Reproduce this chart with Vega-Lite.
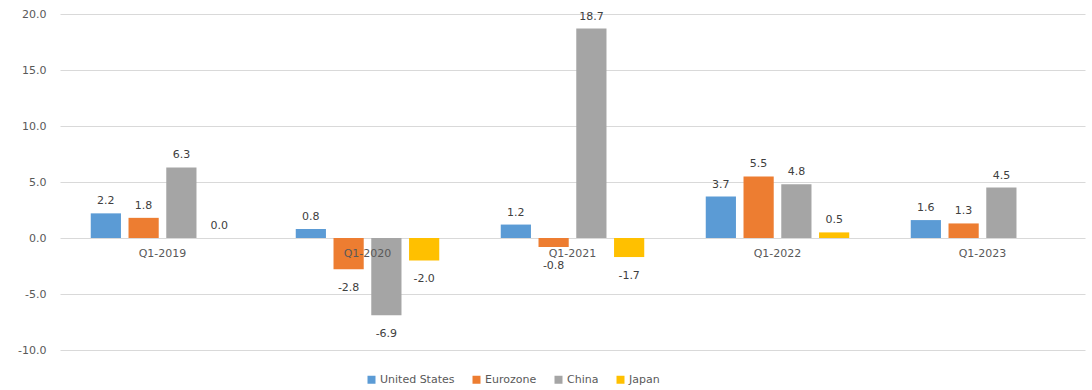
{
  "$schema": "https://vega.github.io/schema/vega-lite/v6.json",
  "width": 1025,
  "height": 336,
  "autosize": {"type": "none"},
  "padding": {"left": 60, "top": 14, "right": 7, "bottom": 40},
  "background": "#ffffff",
  "config": {
    "view": {"stroke": null},
    "font": "DejaVu Sans",
    "locale": {
      "number": {"decimal": ".", "thousands": ",", "grouping": [3], "currency": ["$", ""], "minus": "-"}
    },
    "axis": {"labelFont": "DejaVu Sans", "labelFontSize": 11, "labelColor": "#595959"},
    "legend": {"labelFont": "DejaVu Sans", "labelFontSize": 11, "labelColor": "#595959"}
  },
  "datasets": {
    "growth": [
      {"quarter": "Q1-2019", "series": "United States", "value": 2.2},
      {"quarter": "Q1-2019", "series": "Eurozone", "value": 1.8},
      {"quarter": "Q1-2019", "series": "China", "value": 6.3},
      {"quarter": "Q1-2019", "series": "Japan", "value": 0.0},
      {"quarter": "Q1-2020", "series": "United States", "value": 0.8},
      {"quarter": "Q1-2020", "series": "Eurozone", "value": -2.8},
      {"quarter": "Q1-2020", "series": "China", "value": -6.9},
      {"quarter": "Q1-2020", "series": "Japan", "value": -2.0},
      {"quarter": "Q1-2021", "series": "United States", "value": 1.2},
      {"quarter": "Q1-2021", "series": "Eurozone", "value": -0.8},
      {"quarter": "Q1-2021", "series": "China", "value": 18.7},
      {"quarter": "Q1-2021", "series": "Japan", "value": -1.7},
      {"quarter": "Q1-2022", "series": "United States", "value": 3.7},
      {"quarter": "Q1-2022", "series": "Eurozone", "value": 5.5},
      {"quarter": "Q1-2022", "series": "China", "value": 4.8},
      {"quarter": "Q1-2022", "series": "Japan", "value": 0.5},
      {"quarter": "Q1-2023", "series": "United States", "value": 1.6},
      {"quarter": "Q1-2023", "series": "Eurozone", "value": 1.3},
      {"quarter": "Q1-2023", "series": "China", "value": 4.5}
    ],
    "quarters": [
      {"quarter": "Q1-2019"},
      {"quarter": "Q1-2020"},
      {"quarter": "Q1-2021"},
      {"quarter": "Q1-2022"},
      {"quarter": "Q1-2023"}
    ]
  },
  "encoding": {
    "x": {
      "field": "quarter",
      "type": "nominal",
      "sort": ["Q1-2019", "Q1-2020", "Q1-2021", "Q1-2022", "Q1-2023"],
      "scale": {"paddingInner": 0.3, "paddingOuter": 0.15},
      "axis": null
    }
  },
  "layer": [
    {
      "data": {"name": "growth"},
      "mark": {"type": "bar"},
      "encoding": {
        "xOffset": {
          "field": "series",
          "type": "nominal",
          "sort": ["United States", "Eurozone", "China", "Japan"],
          "scale": {"paddingInner": 0.2, "paddingOuter": 0}
        },
        "y": {
          "field": "value",
          "type": "quantitative",
          "scale": {"domain": [-10, 20], "nice": false, "zero": true},
          "axis": {
            "title": null,
            "values": [-10, -5, 0, 5, 10, 15, 20],
            "format": ".1f",
            "domain": false,
            "ticks": false,
            "labelPadding": 14,
            "gridColor": "#d9d9d9",
            "gridWidth": 1
          }
        },
        "color": {
          "field": "series",
          "type": "nominal",
          "sort": ["United States", "Eurozone", "China", "Japan"],
          "scale": {
            "domain": ["United States", "Eurozone", "China", "Japan"],
            "range": ["#5b9bd5", "#ed7d31", "#a5a5a5", "#ffc000"]
          },
          "legend": {
            "title": null,
            "orient": "none",
            "direction": "horizontal",
            "legendX": 306,
            "legendY": 360,
            "symbolType": "square",
            "symbolSize": 64,
            "symbolStrokeWidth": 0,
            "labelOffset": 3,
            "columnPadding": 16
          }
        }
      }
    },
    {
      "data": {"name": "growth"},
      "transform": [{"filter": "datum.value >= 0"}],
      "mark": {"type": "text", "baseline": "bottom", "dy": -7, "fontSize": 11, "color": "#404040"},
      "encoding": {
        "xOffset": {
          "field": "series",
          "type": "nominal",
          "sort": ["United States", "Eurozone", "China", "Japan"]
        },
        "y": {"field": "value", "type": "quantitative"},
        "text": {"field": "value", "type": "quantitative", "format": ".1f"}
      }
    },
    {
      "data": {"name": "growth"},
      "transform": [{"filter": "datum.value < 0"}],
      "mark": {"type": "text", "baseline": "top", "dy": 13, "fontSize": 11, "color": "#404040"},
      "encoding": {
        "xOffset": {
          "field": "series",
          "type": "nominal",
          "sort": ["United States", "Eurozone", "China", "Japan"]
        },
        "y": {"field": "value", "type": "quantitative"},
        "text": {"field": "value", "type": "quantitative", "format": ".1f"}
      }
    },
    {
      "data": {"name": "quarters"},
      "mark": {"type": "text", "baseline": "middle", "dy": 16, "fontSize": 11, "color": "#595959"},
      "encoding": {
        "y": {"datum": 0, "type": "quantitative"},
        "text": {"field": "quarter", "type": "nominal"}
      }
    }
  ]
}
